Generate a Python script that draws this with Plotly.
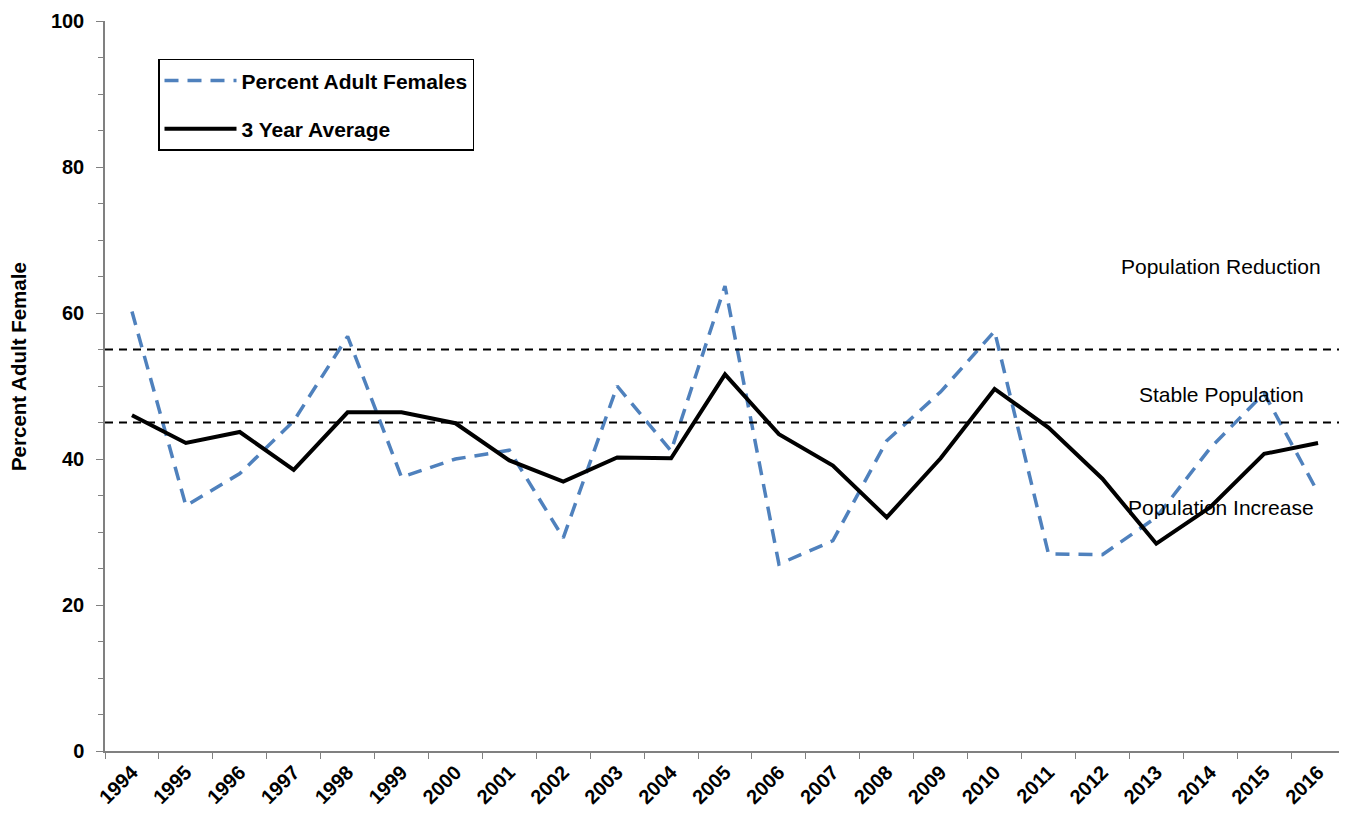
import plotly.graph_objects as go

years = [str(y) for y in range(1994, 2017)]
pct_adult_females = [60.2, 33.6, 38.0, 45.2, 56.8, 37.5, 40.0, 41.2, 29.2, 50.0, 41.1, 63.7,
                     25.6, 28.8, 42.5, 49.2, 57.5, 27.0, 26.9, 32.0, 41.5, 49.0, 35.4]
three_year_avg = [46.0, 42.2, 43.7, 38.5, 46.4, 46.4, 44.9, 39.8, 36.9, 40.2, 40.1, 51.6,
                  43.4, 39.1, 32.0, 40.1, 49.6, 44.3, 37.3, 28.4, 33.4, 40.7, 42.2]
ref_levels = [55, 45]
zone_labels = ["Population Reduction", "Stable Population", "Population Increase"]
zone_label_y = [66.4, 48.9, 33.3]

font = "Liberation Sans, Arial, sans-serif"

fig = go.Figure()
fig.add_trace(go.Scatter(x=years, y=pct_adult_females, mode="lines", name="Percent Adult Females",
                         legendgroup="a",
                         line=dict(color="#4F81BD", width=3.5, dash="14px,9px")))
fig.add_trace(go.Scatter(x=years, y=three_year_avg, mode="lines", name="3 Year Average",
                         legendgroup="b",
                         line=dict(color="black", width=4)))

# reference lines
for lvl in ref_levels:
    fig.add_shape(type="line", xref="paper", x0=0, x1=1, yref="y", y0=lvl, y1=lvl,
                  line=dict(color="black", width=1.8, dash="8px,6px"))

for txt, yv in zip(zone_labels, zone_label_y):
    fig.add_annotation(x=(1221 - 105) / 1240, xref="paper", y=yv, yref="y", text=txt,
                       showarrow=False, xanchor="center",
                       font=dict(family=font, size=21, color="black"))

fig.add_annotation(x=(18 - 105) / 1240, xref="paper", y=(751 - 366) / 732, yref="paper",
                   text="<b>Percent Adult Female</b>", textangle=-90, showarrow=False,
                   xanchor="center", yanchor="middle",
                   font=dict(family=font, size=20.5, color="black"))

# page body adds an 8px margin, so the figure is shrunk and shifted by that
fig.update_layout(
    width=1339, height=805,
    margin=dict(l=97, r=2, t=11, b=62),
    plot_bgcolor="white", paper_bgcolor="white",
    font=dict(family=font, color="black"),
    showlegend=True,
    legend=dict(x=(158 - 105) / 1240, y=(751 - 57) / 732, xanchor="left", yanchor="top",
                bordercolor="black", borderwidth=1.5, bgcolor="white",
                font=dict(family=font, size=21, color="black", weight="bold"),
                traceorder="grouped", tracegroupgap=18, itemwidth=72),
    xaxis=dict(type="category", range=[-0.5, 22.5], tickson="boundaries",
               ticks="outside", ticklen=6, tickcolor="#808080",
               showline=True, linecolor="#808080", linewidth=1.5,
               showgrid=False, tickangle=-45,
               tickfont=dict(family=font, size=20, color="black", weight="bold")),
    yaxis=dict(range=[0, 100], dtick=20, ticks="outside", ticklen=7, tickcolor="#808080",
               showline=True, linecolor="#808080", linewidth=1.5, showgrid=False,
               zeroline=False, ticklabelstandoff=8,
               minor=dict(dtick=5, ticks="outside", ticklen=5, tickcolor="#808080"),
               tickfont=dict(family=font, size=20, color="black", weight="bold")),
)

fig.write_html("out.html")
